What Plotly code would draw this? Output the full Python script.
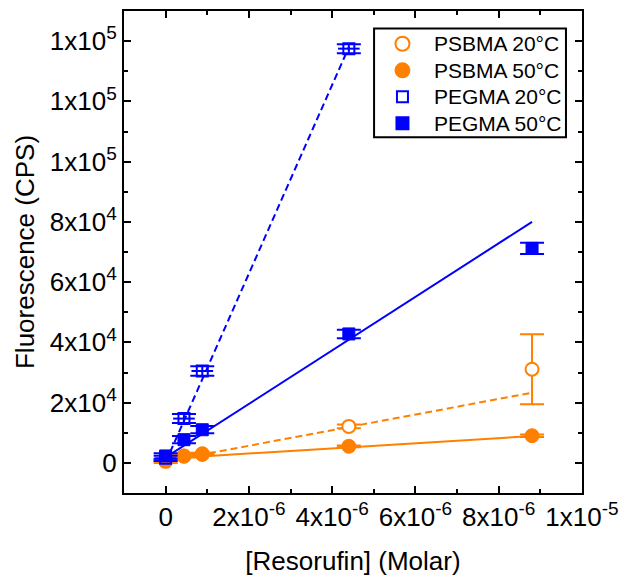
import plotly.graph_objects as go

# ---- data ----
conc = [0, 4.4e-7, 8.8e-7, 4.4e-6, 8.8e-6]
pegma_conc = [0, 4.4e-7, 8.8e-7, 4.4e-6]

psbma20 = [500, 2200, 3000, 12100, 31100]
psbma20_err = [500, 400, 400, 600, 11600]
psbma50 = [800, 2300, 2800, 5500, 9000]
psbma50_err = [300, 300, 300, 300, 400]
pegma20 = [1500, 14700, 30500, 137500]
pegma20_err = [900, 1500, 1600, 1500]
pegma20_xerr = [2.6e-7, 2.6e-7, 2.6e-7, 2.6e-7]
pegma50 = [2300, 7700, 11000, 42800, 71200]
pegma50_err = [900, 1200, 1200, 1400, 1900]

fit_x_short = [0, 4.4e-6]
fit_x_long = [0, 8.8e-6]
pegma20_fit = [200, 138000]
pegma50_fit = [1800, 80000]
psbma20_fit = [500, 23300]
psbma50_fit = [1400, 8900]

y_ticks = [0, 2e4, 4e4, 6e4, 8e4, 1e5, 1.2e5, 1.4e5]
y_mant = ["0", "2", "4", "6", "8", "1", "1", "1"]
y_exp = [None, "4", "4", "4", "4", "5", "5", "5"]
x_ticks = [0, 2e-6, 4e-6, 6e-6, 8e-6, 1e-5]
x_mant = ["0", "2", "4", "6", "8", "1"]
x_exp = [None, "-6", "-6", "-6", "-6", "-5"]

series_names = ["PSBMA 20°C", "PSBMA 50°C", "PEGMA 20°C", "PEGMA 50°C"]

ORANGE = "#FF8000"
BLUE = "#0000FF"
FONT = "Arial, Liberation Sans, sans-serif"
SUP_SIZE = 19


def sci_label(m, e):
    if e is None:
        return m
    return f"{m}x10<sup><span style='font-size:{SUP_SIZE}px'>{e}</span></sup>"


y_labels = [sci_label(m, e) for m, e in zip(y_mant, y_exp)]
x_labels = [sci_label(m, e) for m, e in zip(x_mant, x_exp)]

fig = go.Figure()

# fit lines
fig.add_trace(go.Scatter(x=fit_x_long, y=psbma20_fit, mode="lines", showlegend=False,
                         line=dict(color=ORANGE, width=2, dash="7px,4px"), hoverinfo="skip"))
fig.add_trace(go.Scatter(x=fit_x_long, y=psbma50_fit, mode="lines", showlegend=False,
                         line=dict(color=ORANGE, width=2), hoverinfo="skip"))
fig.add_trace(go.Scatter(x=fit_x_short, y=pegma20_fit, mode="lines", showlegend=False,
                         line=dict(color=BLUE, width=2, dash="7px,4px"), hoverinfo="skip"))
fig.add_trace(go.Scatter(x=fit_x_long, y=pegma50_fit, mode="lines", showlegend=False,
                         line=dict(color=BLUE, width=2), hoverinfo="skip"))

# data points
fig.add_trace(go.Scatter(
    x=conc, y=psbma20, mode="markers", name=series_names[0], showlegend=False,
    marker=dict(symbol="circle", size=13, color="white", line=dict(color=ORANGE, width=2)),
    error_y=dict(type="data", array=psbma20_err, color=ORANGE, thickness=2, width=12)))
fig.add_trace(go.Scatter(
    x=conc, y=psbma50, mode="markers", name=series_names[1], showlegend=False,
    marker=dict(symbol="circle", size=14, color=ORANGE, line=dict(color=ORANGE, width=1)),
    error_y=dict(type="data", array=psbma50_err, color=ORANGE, thickness=2, width=12)))
fig.add_trace(go.Scatter(
    x=pegma_conc, y=pegma20, mode="markers", name=series_names[2], showlegend=False,
    marker=dict(symbol="square-open", size=11, color=BLUE, line=dict(color=BLUE, width=2)),
    error_y=dict(type="data", array=pegma20_err, color=BLUE, thickness=2, width=12),
    error_x=dict(type="data", array=pegma20_xerr, color=BLUE, thickness=2, width=0)))
fig.add_trace(go.Scatter(
    x=conc, y=pegma50, mode="markers", name=series_names[3], showlegend=False,
    marker=dict(symbol="square", size=12, color=BLUE, line=dict(color=BLUE, width=1)),
    error_y=dict(type="data", array=pegma50_err, color=BLUE, thickness=2, width=12)))

axis_common = dict(
    showline=True, linecolor="black", linewidth=2, mirror="ticks",
    ticks="inside", ticklen=7, tickwidth=2, tickcolor="black",
    showgrid=False, zeroline=False,
    tickfont=dict(family=FONT, size=26, color="black"),
)

fig.update_xaxes(
    **axis_common, range=[-1e-6, 1e-5], tickmode="array", tickvals=x_ticks, ticktext=x_labels,
    minor=dict(ticks="inside", ticklen=4, tickwidth=2, tickcolor="black", dtick=1e-6, tick0=0, showgrid=False),
    title=dict(text="[Resorufin] (Molar)", font=dict(family=FONT, size=26, color="black"), standoff=24),
)
fig.update_yaxes(
    **axis_common, range=[-1e4, 1.5e5], tickmode="array", tickvals=y_ticks, ticktext=y_labels,
    minor=dict(ticks="inside", ticklen=4, tickwidth=2, tickcolor="black", dtick=1e4, tick0=0, showgrid=False),
    title=dict(text="Fluorescence (CPS)", font=dict(family=FONT, size=26, color="black"), standoff=8),
)

# ---- legend box drawn with shapes/annotations (paper coords) ----
leg_x0, leg_x1, leg_y0, leg_y1 = 0.546, 0.965, 0.738, 0.9635
row_y = [0.932, 0.877, 0.822, 0.767]
sym_x = 0.608
txt_x = 0.672
shapes = [dict(type="rect", xref="paper", yref="paper", x0=leg_x0, x1=leg_x1, y0=leg_y0, y1=leg_y1,
               line=dict(color="black", width=2), fillcolor="white", layer="above")]
sym_specs = [
    ("circle", 7, "white", ORANGE),
    ("circle", 7, ORANGE, ORANGE),
    ("rect", 5.5, "white", BLUE),
    ("rect", 6, BLUE, BLUE),
]
for (kind, r, fill, col), yy in zip(sym_specs, row_y):
    shapes.append(dict(type=kind, xref="paper", yref="paper", xsizemode="pixel", ysizemode="pixel",
                       xanchor=sym_x, yanchor=yy, x0=-r, x1=r, y0=-r, y1=r,
                       fillcolor=fill, line=dict(color=col, width=2), layer="above"))
annotations = [dict(text=n, x=txt_x, y=yy, xref="paper", yref="paper", xanchor="left", yanchor="middle",
                    showarrow=False, font=dict(family=FONT, size=21, color="black"))
               for n, yy in zip(series_names, row_y)]

fig.update_layout(
    width=624, height=576,
    margin=dict(l=124, r=42, t=11, b=83, autoexpand=False),
    paper_bgcolor="white", plot_bgcolor="white",
    showlegend=False,
    shapes=shapes, annotations=annotations,
)

fig.write_html("out.html")
